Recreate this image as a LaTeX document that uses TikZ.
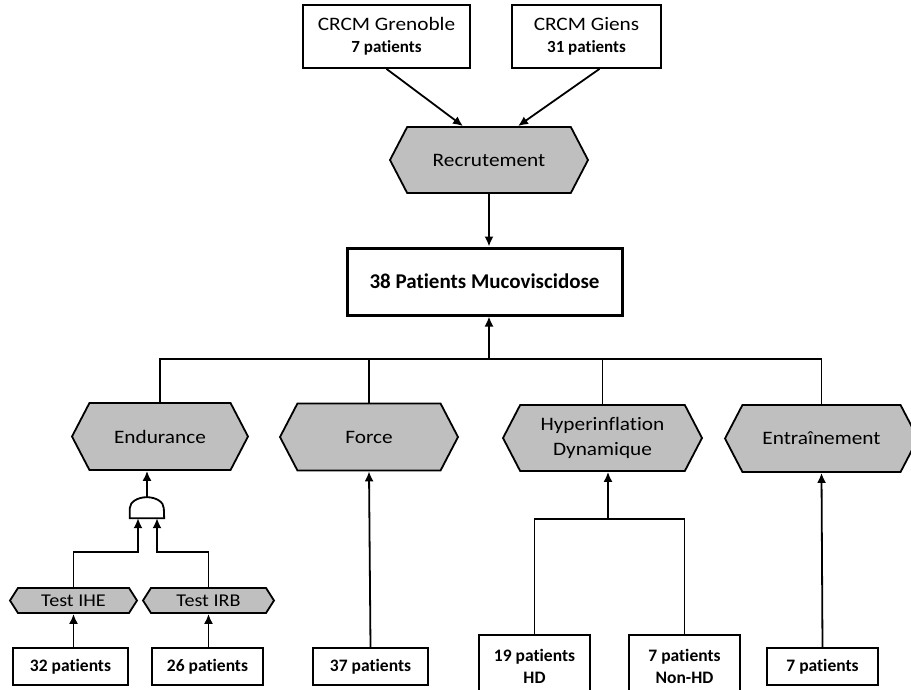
\documentclass[tikz,border=0pt]{standalone}
\usepackage{fontspec}
\setmainfont{Carlito}[Ligatures=NoCommon]
\newfontfamily\widefont{Carlito}[FakeStretch=1.12,Ligatures=NoCommon]
\usetikzlibrary{shapes.symbols,arrows.meta}
\definecolor{hexgray}{RGB}{191,191,191}
\tikzset{
    hexa/.style={signal,signal to=west and east,signal pointer angle=125,draw,line width=1.8pt,
        fill=hexgray,align=center,inner sep=0pt,font=\widefont\fontsize{19}{25}\selectfont},
    smallhexa/.style={hexa,signal pointer angle=115,font=\widefont\fontsize{18}{20}\selectfont},
    countbox/.style={draw,line width=1.8pt,align=center,inner sep=0pt,font=\bfseries\fontsize{17.5}{22}\selectfont},
    link/.style={line width=1.8pt},
    arr/.style={line width=1.8pt,-{Latex[length=10pt,width=9pt]}}
}
\begin{document}
\begin{tikzpicture}[x=1pt,y=-1pt]
        \useasboundingbox (0,0) rectangle (911,690);
        \clip (0,0) rectangle (911,690);
        %% centres and recruitment
        \node[countbox,minimum width=167pt,minimum height=63pt,font=\bfseries\fontsize{17}{22}\selectfont] (gre) at (386.5,36.5)
            {{\mdseries\widefont\fontsize{19}{22}\selectfont CRCM Grenoble}\\7 patients};
        \node[countbox,minimum width=149pt,minimum height=63pt,font=\bfseries\fontsize{17}{22}\selectfont] (gie) at (586.5,36.5)
            {{\mdseries\widefont\fontsize{19}{22}\selectfont CRCM Giens}\\31 patients};
        \node[hexa,minimum width=198pt,minimum height=66pt] (rec) at (489,160) {Recrutement};
        \node[countbox,line width=3pt,minimum width=275pt,minimum height=67pt,font=\bfseries\fontsize{21}{25}\selectfont] (pat) at (484.5,281.5)
            {38 Patients Mucoviscidose};
        \draw[arr] (gre.south) -- ([xshift=-26pt]rec.north);
        \draw[arr] ([xshift=13pt]gie.south) -- ([xshift=29pt]rec.north);
        \draw[arr] (rec.south) -- (rec.south |- pat.north);
        %% the four evaluations
        \node[hexa,minimum width=176pt,minimum height=67pt] (endu) at (160,436.5) {Endurance};
        \node[hexa,minimum width=178pt,minimum height=67pt] (force) at (369,437) {Force};
        \node[hexa,minimum width=199pt,minimum height=66pt] (hyp) at (602.5,438) {Hyperinflation\\Dynamique};
        \node[hexa,minimum width=193pt,minimum height=67pt] (entr) at (821.5,438.5) {Entraînement};
        \coordinate (bus) at (489,359);
        \draw[arr] (bus) -- (bus |- pat.south);
        \draw[link] (endu.north) |- (bus) -| (entr.north);
        \draw[link] (force.north) -- (force.north |- bus);
        \draw[link] (hyp.north) -- (hyp.north |- bus);
        %% endurance tests and gate
        \node[minimum width=34pt,minimum height=21pt,inner sep=0pt] (et) at (147,507.5) {};
        \draw[line width=1.8pt] (et.south west) -- ++(0,-10) arc[start angle=180,end angle=0,x radius=17pt,y radius=11pt]
            -- (et.south east) -- cycle;
        \draw[arr] (et.north) -- (et.north |- endu.south);
        \node[smallhexa,minimum width=127pt,minimum height=25pt] (ihe) at (73.5,600.5) {Test IHE};
        \node[smallhexa,minimum width=131pt,minimum height=25pt] (irb) at (208.5,600.5) {Test IRB};
        \draw[arr] (ihe.north) -- ++(0,-35) -| ([xshift=-9pt]et.south);
        \draw[arr] (irb.north) -- ++(0,-35) -| ([xshift=10pt]et.south);
        %% patient counts
        \node[countbox,minimum width=115pt,minimum height=37pt] (b32) at (70.5,666.5) {32 patients};
        \node[countbox,minimum width=111pt,minimum height=37pt] (b26) at (207.5,666.5) {26 patients};
        \node[countbox,minimum width=115pt,minimum height=37pt] (b37) at (370.5,666.5) {37 patients};
        \node[countbox,minimum width=111pt,minimum height=62pt] (bhd) at (534.5,666) {19 patients\\HD};
        \node[countbox,minimum width=111pt,minimum height=62pt] (bnhd) at (684.5,666) {7 patients\\Non-HD};
        \node[countbox,minimum width=111pt,minimum height=37pt] (b7) at (822.5,666.5) {7 patients};
        \draw[arr] (ihe.south |- b32.north) -- (ihe.south);
        \draw[arr] (irb.south |- b26.north) -- (irb.south);
        \draw[arr] (b37.north) -- (force.south);
        \coordinate (hdbar) at (608,519);
        \draw[link] (bhd.north) |- (hdbar) -| (bnhd.north);
        \draw[arr] (hdbar) -- (hdbar |- hyp.south);
        \draw[arr] (b7.north) -- (entr.south);
    \end{tikzpicture}
\end{document}
